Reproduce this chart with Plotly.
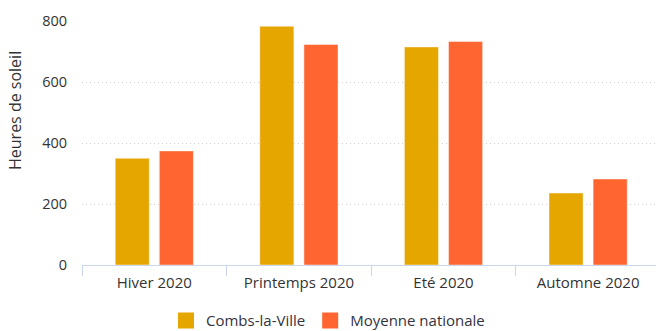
import plotly.graph_objects as go

# Sunshine hours per season, 2020
saisons = ["Hiver 2020", "Printemps 2020", "Eté 2020", "Automne 2020"]
combs_la_ville = [350, 783, 715, 236]
moyenne_nationale = [374, 723, 733, 282]

series = [
    ("Combs-la-Ville", combs_la_ville, "#e6a600"),
    ("Moyenne nationale", moyenne_nationale, "#ff6530"),
]

FONT = "Open Sans"
TEXT = "#333333"

fig = go.Figure()
for name, values, color in series:
    fig.add_bar(
        x=saisons, y=values, name=name, showlegend=False, legendgroup=name,
        marker=dict(color=color, line=dict(color="rgba(255,255,255,0.45)", width=1)),
    )
# legend entries with larger square swatches
for name, values, color in series:
    fig.add_scatter(
        x=[None], y=[None], mode="markers", name=name, legendgroup=name,
        marker=dict(symbol="square", size=16, color=color),
        hoverinfo="skip",
    )

W, H = 656, 331
L, R, T, B = 82, 0, 21, 66
plot_w = W - L - R
cat_w = 144.6  # pixel width of one category

fig.update_layout(
    width=W, height=H,
    margin=dict(l=L, r=R, t=T, b=B, pad=0),
    paper_bgcolor="white", plot_bgcolor="white",
    barmode="group", bargap=0.39, bargroupgap=0.227,
    font=dict(family=FONT, size=14, color=TEXT),
    showlegend=True,
    legend=dict(
        orientation="h", xref="container", yref="container",
        x=0.5, xanchor="center", y=1 - 320.7 / H, yanchor="middle",
        font=dict(family=FONT, size=15, color="#333340"),
        itemsizing="trace", itemwidth=30,
        itemclick=False, itemdoubleclick=False, tracegroupgap=0,
    ),
    xaxis=dict(
        type="category",
        range=[-0.5, -0.5 + plot_w / cat_w],
        showline=True, linecolor="#ccd6eb", linewidth=1,
        ticks="outside", tickson="boundaries", ticklen=10, tickcolor="#ccd6eb",
        ticklabelstandoff=4,
        showgrid=False, zeroline=False,
        tickfont=dict(family=FONT, size=15, color=TEXT),
        fixedrange=True,
    ),
    yaxis=dict(
        range=[0, 800], tickvals=[0, 200, 400, 600, 800],
        showgrid=True, gridcolor="#cfcfcf", griddash="1px,3px", gridwidth=1,
        zeroline=False, showline=False, ticks="",
        ticklabelstandoff=14,
        tickfont=dict(family=FONT, size=14.5, color=TEXT),
        fixedrange=True,
    ),
    annotations=[dict(
        text="Heures de soleil", textangle=-90,
        xref="paper", yref="paper",
        x=(14.5 - L) / plot_w, y=(265 - 110.5) / (H - T - B),
        xanchor="center", yanchor="middle", showarrow=False,
        font=dict(family=FONT, size=16, color=TEXT),
    )],
)

fig.write_html("out.html", config={"displayModeBar": False})
